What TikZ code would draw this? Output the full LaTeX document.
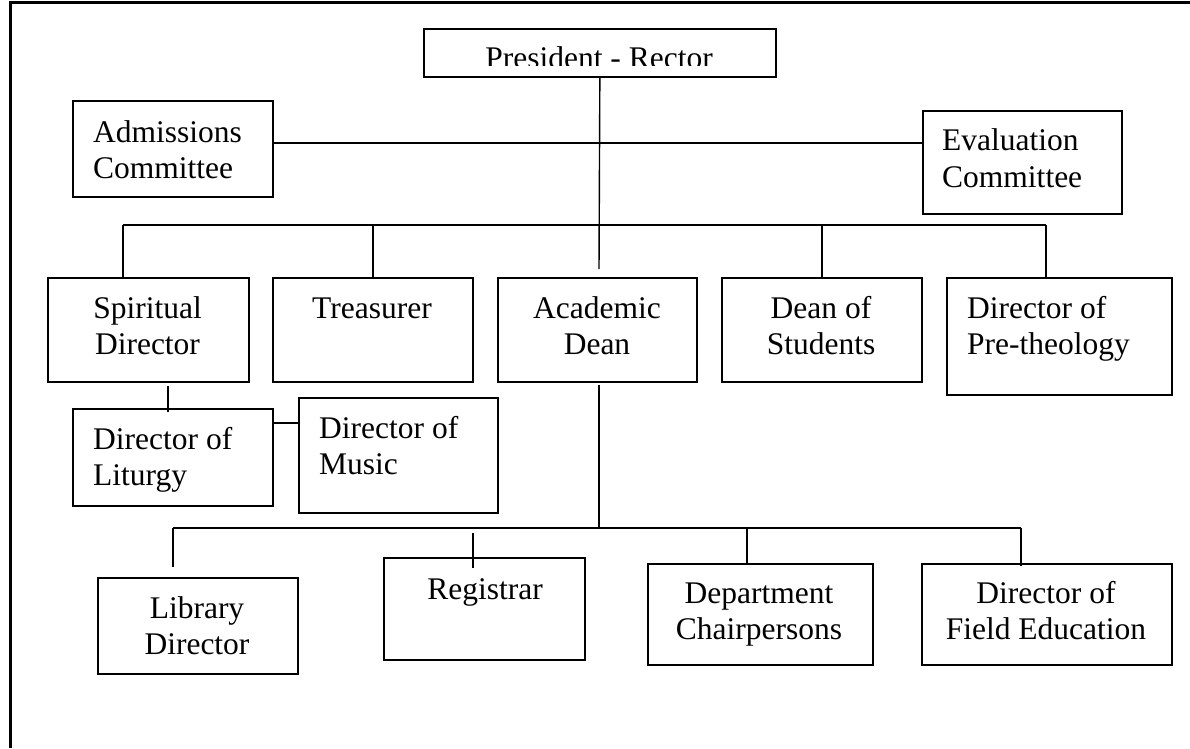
\documentclass[tikz,border=0pt]{standalone}
\usepackage{fontspec}
\setmainfont{Liberation Serif}
\begin{document}
\begin{tikzpicture}[x=1pt,y=-1pt,
  box/.style={draw,line width=1.7pt,inner sep=0pt,anchor=north west},
  txt/.style={font=\fontsize{31.5}{36}\selectfont,inner sep=0pt},
  conn/.style={line width=1.4pt},
  framel/.style={line width=2.6pt}]
\useasboundingbox (0,0) rectangle (1190,748);
% outer frame
\coordinate (f1) at (10.5,748);
\coordinate (f2) at (10.5,2.5);
\coordinate (f3) at (1190,2.5);
\draw[framel] (f1) -- (f2) -- (f3);

% boxes
\node[box,minimum width=352pt,minimum height=48pt] (pres) at (423,28) {};
\node[box,minimum width=200pt,minimum height=96pt] (adm) at (72,100) {};
\node[box,minimum width=199pt,minimum height=103pt] (eval) at (922,110) {};
\node[box,minimum width=201pt,minimum height=104pt] (sp) at (47,277) {};
\node[box,minimum width=200pt,minimum height=104pt] (tr) at (272,277) {};
\node[box,minimum width=199pt,minimum height=104pt] (ac) at (497,277) {};
\node[box,minimum width=200pt,minimum height=104pt] (ds) at (721,277) {};
\node[box,minimum width=225pt,minimum height=117pt] (pt) at (946,277) {};
\node[box,minimum width=200pt,minimum height=97pt] (lit) at (72,408) {};
\node[box,minimum width=199pt,minimum height=115pt] (mus) at (298,397) {};
\node[box,minimum width=200pt,minimum height=96pt] (lib) at (97,577) {};
\node[box,minimum width=201pt,minimum height=102pt] (reg) at (383,557) {};
\node[box,minimum width=225pt,minimum height=101pt] (dep) at (647,563) {};
\node[box,minimum width=250pt,minimum height=101pt] (fld) at (921,563) {};

% texts
\begin{scope}
\clip (423,28) rectangle (775,65);
\node[txt,anchor=base] (prest) at (599,68) {President - Rector};
\end{scope}
\node[txt,anchor=base west] (admt1) at (93,142) {Admissions};
\node[txt,anchor=base west] (admt2) at (93,178) {Committee};
\node[txt,anchor=base west] (evalt1) at (942,150) {Evaluation};
\node[txt,anchor=base west] (evalt2) at (942,187) {Committee};
\node[txt,anchor=base] (spt1) at (147.5,318) {Spiritual};
\node[txt,anchor=base] (spt2) at (147.5,354) {Director};
\node[txt,anchor=base] (trt) at (372,318) {Treasurer};
\node[txt,anchor=base] (act1) at (597,318) {Academic};
\node[txt,anchor=base] (act2) at (597,354) {Dean};
\node[txt,anchor=base] (dst1) at (821,318) {Dean of};
\node[txt,anchor=base] (dst2) at (821,354) {Students};
\node[txt,anchor=base west] (ptt1) at (967,318) {Director of};
\node[txt,anchor=base west] (ptt2) at (967,354) {Pre-theology};
\node[txt,anchor=base west] (litt1) at (93,449) {Director of};
\node[txt,anchor=base west] (litt2) at (93,485) {Liturgy};
\node[txt,anchor=base west] (must1) at (319,438) {Director of};
\node[txt,anchor=base west] (must2) at (319,474) {Music};
\node[txt,anchor=base] (libt1) at (197,618) {Library};
\node[txt,anchor=base] (libt2) at (197,654) {Director};
\node[txt,anchor=base] (regt) at (485,599) {Registrar};
\node[txt,anchor=base] (dept1) at (759,603) {Department};
\node[txt,anchor=base] (dept2) at (759,639) {Chairpersons};
\node[txt,anchor=base] (fldt1) at (1046,603) {Director of};
\node[txt,anchor=base] (fldt2) at (1046,639) {Field Education};

% connectors
\coordinate (m1) at (599,269);
\draw[conn] (pres.south) -- (m1);
\coordinate (cm) at (599,143);
\draw[conn] (adm.east |- cm) -- (eval.west |- cm);
\coordinate (bl) at (123,225);
\coordinate (br) at (1046,225);
\coordinate (btr) at (373,225);
\coordinate (bds) at (822,225);
\draw[conn] (bl) -- (br);
\draw[conn] (bl) -- (bl |- sp.north);
\draw[conn] (btr) -- (btr |- tr.north);
\draw[conn] (bds) -- (bds |- ds.north);
\draw[conn] (br) -- (br |- pt.north);
\coordinate (sl1) at (168,386);
\coordinate (sl2) at (168,412);
\draw[conn] (sl1) -- (sl2);
\coordinate (lm) at (285,423);
\draw[conn] (lit.east |- lm) -- (mus.west |- lm);
\coordinate (a1) at (599,385);
\coordinate (a2) at (599,528);
\draw[conn] (a1) -- (a2);
\coordinate (bb1) at (173,528);
\coordinate (bb2) at (1021,528);
\coordinate (bb3) at (747,528);
\draw[conn] (bb1) -- (bb2);
\coordinate (lb) at (173,567);
\draw[conn] (bb1) -- (lb);
\coordinate (rg1) at (473,533);
\coordinate (rg2) at (473,568);
\draw[conn] (rg1) -- (rg2);
\draw[conn] (bb3) -- (bb3 |- dep.north);
\coordinate (fd) at (1021,566);
\draw[conn] (bb2) -- (fd);
\end{tikzpicture}
\end{document}
